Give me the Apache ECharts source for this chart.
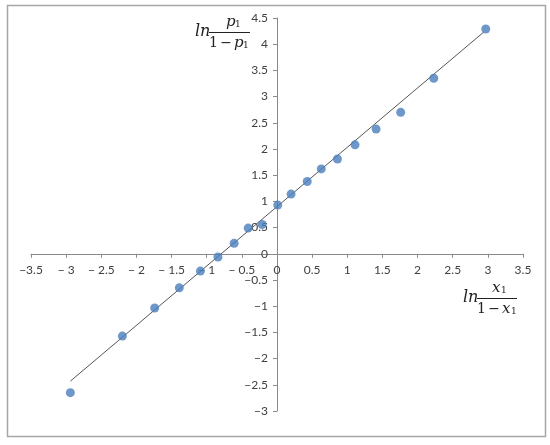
<!DOCTYPE html>
<html>
<head>
<meta charset="utf-8">
<script src="https://cdn.jsdelivr.net/npm/echarts@6/dist/echarts.min.js"></script>
<style>
  html, body { margin: 0; padding: 0; background: #fff; }
  #chart { width: 550px; height: 445px; }
</style>
</head>
<body>
<div id="chart"></div>
<script>
// observed points: ln(x1/(1-x1)) vs ln(p1/(1-p1))
var xs = [-2.94, -2.20, -1.74, -1.39, -1.09, -0.84, -0.61, -0.41, -0.21, 0.01,
          0.20, 0.43, 0.63, 0.86, 1.11, 1.41, 1.76, 2.23, 2.97];
var ys = [-2.65, -1.57, -1.035, -0.65, -0.33, -0.06, 0.20, 0.49, 0.56, 0.93,
          1.14, 1.38, 1.62, 1.81, 2.08, 2.38, 2.70, 3.35, 4.29];
// fitted line end points
var lineX = [-2.94, 2.94];
var lineY = [-2.43, 4.23];

var xMin = -3.5, xMax = 3.5, yMin = -3, yMax = 4.5, step = 0.5;

var gLeft = 31, gRight = 27, gTop = 18, gBottom = 34;
var W = 550, H = 445;
// move both axes so they cross at the origin (labels follow the line)
var zeroX = gLeft + (0 - xMin) / (xMax - xMin) * (W - gLeft - gRight);
var zeroY = gTop + (yMax - 0) / (yMax - yMin) * (H - gTop - gBottom);

var chart = echarts.init(document.getElementById('chart'));

var xFmt = function (v) {
  if (v === 0) return '0';
  if (v < 0) return (v === -3.5 ? '\u2212' : '\u2212 ') + Math.abs(v);
  return String(v);
};
var yFmt = function (v) {
  return v < 0 ? '\u2212' + Math.abs(v) : String(v);
};

var axisColor = '#8a8a8a';
var labelStyle = { color: '#404040', fontSize: 12, fontFamily: 'Lato' };
var mathFont = '"DejaVu Serif", "Liberation Serif", serif';
var ink = '#222';

// little helper for the italic math pieces
var mt = function (x, y, text, size, italic, align) {
  return { type: 'text', x: x, y: y, silent: true,
    style: { text: text, font: (italic ? 'italic ' : '') + size + 'px ' + mathFont,
      fill: ink, align: align || 'left', verticalAlign: 'middle' } };
};

var option = {
  animation: false,
  grid: { left: gLeft, right: gRight, top: gTop, bottom: gBottom },
  xAxis: {
    type: 'value', min: xMin, max: xMax, interval: step,
    position: 'bottom',
    offset: -(H - gBottom - zeroY),
    splitLine: { show: false },
    axisLine: { onZero: false, lineStyle: { color: axisColor } },
    axisTick: { show: true, length: 4, lineStyle: { color: axisColor } },
    axisLabel: Object.assign({ margin: 10, formatter: xFmt, showMinLabel: true, showMaxLabel: true }, labelStyle)
  },
  yAxis: {
    type: 'value', min: yMin, max: yMax, interval: step,
    position: 'left',
    offset: -(zeroX - gLeft),
    splitLine: { show: false },
    axisLine: { show: true, onZero: false, lineStyle: { color: axisColor } },
    axisTick: { show: true, length: 4, lineStyle: { color: axisColor } },
    axisLabel: Object.assign({ margin: 9, formatter: yFmt }, labelStyle)
  },
  series: [{
    type: 'line',
    data: lineX.map(function (x, i) { return [x, lineY[i]]; }),
    symbol: 'none',
    lineStyle: { color: '#555', width: 1 },
    z: 2
  }, {
    type: 'scatter',
    data: xs.map(function (x, i) { return [x, ys[i]]; }),
    symbolSize: 9,
    itemStyle: { color: '#4a7ebb' },
    z: 3
  }],
  graphic: [
    { type: 'rect', shape: { x: 7.5, y: 5.5, width: 538, height: 431 },
      style: { fill: 'none', stroke: '#a6a6a6', lineWidth: 1.5 }, silent: true },
    // y-axis title: ln p1/(1-p1)
    mt(195, 32, 'ln', 16, true),
    mt(226, 22, 'p', 15, true),
    mt(235, 25, '1', 9, false),
    { type: 'line', shape: { x1: 209, y1: 32.5, x2: 250, y2: 32.5 }, style: { stroke: ink, lineWidth: 1 } },
    mt(209, 43, '1', 14, false),
    mt(226, 43, '\u2212', 14, false, 'center'),
    mt(234, 43, 'p', 15, true),
    mt(243, 46, '1', 9, false),
    // x-axis title: ln x1/(1-x1)
    mt(463, 298, 'ln', 16, true),
    mt(492, 288, 'x', 15, true),
    mt(501, 291, '1', 9, false),
    { type: 'line', shape: { x1: 477, y1: 298.5, x2: 517, y2: 298.5 }, style: { stroke: ink, lineWidth: 1 } },
    mt(477, 309, '1', 14, false),
    mt(494, 309, '\u2212', 14, false, 'center'),
    mt(502, 309, 'x', 15, true),
    mt(511, 312, '1', 9, false)
  ]
};
chart.setOption(option);
</script>
</body>
</html>
